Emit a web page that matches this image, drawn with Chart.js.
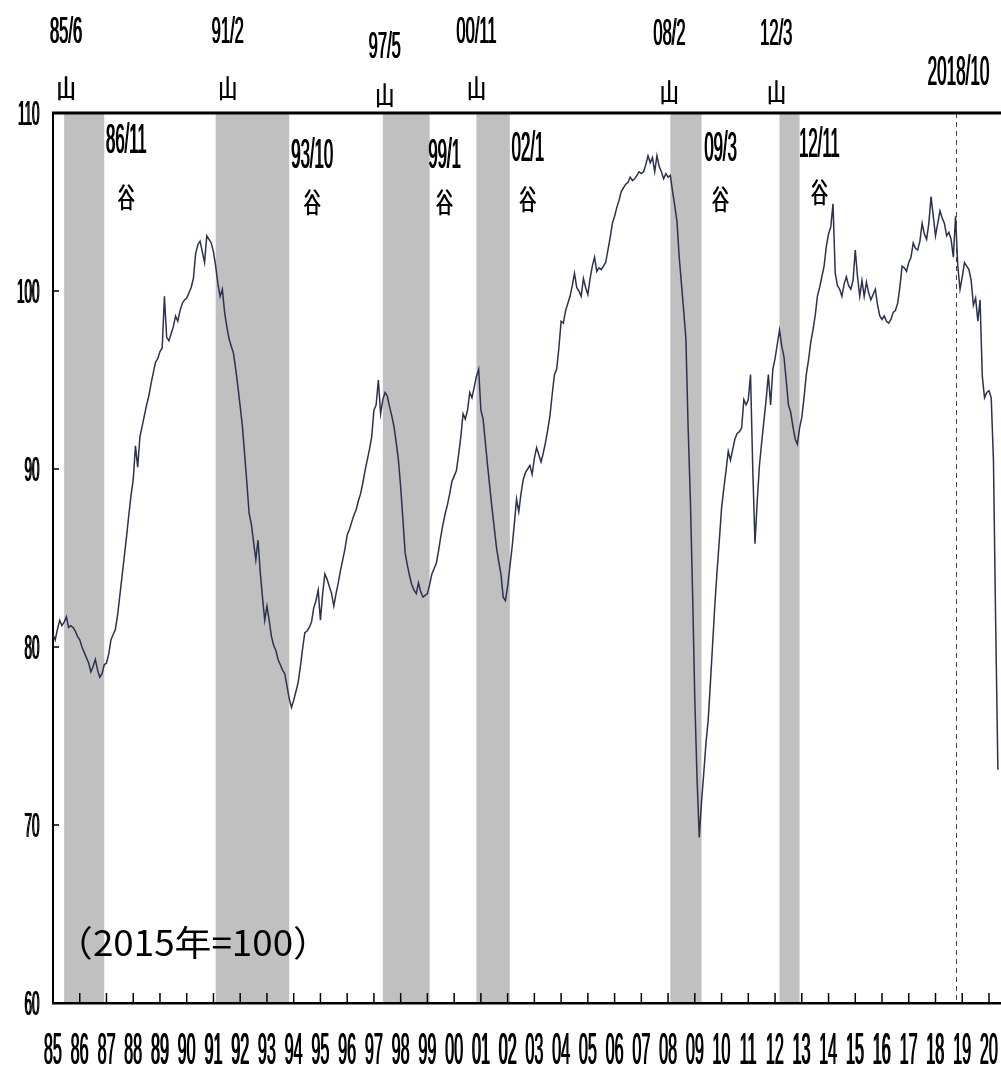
<!DOCTYPE html>
<html>
<head>
<meta charset="utf-8">
<script src="https://cdn.jsdelivr.net/npm/chart.js@4.4.1/dist/chart.umd.min.js"></script>
<style>
  body { margin: 0; background: #fff; }
</style>
</head>
<body>
<canvas id="ciChart" width="1001" height="1069"></canvas>
<script>
// 景気動向指数 CI 一致指数 (2015年=100), monthly from 1985/1
const startYear = 1985;
const ciValues = [
  80.7, 80.4, 81.0, 81.5, 81.2, 81.4, 81.7, 81.1, 81.2, 81.1, 80.9, 80.6,   // 1985
  80.4, 80.0, 79.7, 79.4, 79.1, 78.6, 78.9, 79.3, 78.7, 78.3, 78.5, 79.0,   // 1986
  79.1, 79.6, 80.4, 80.7, 81.0, 81.8, 82.9, 84.0, 85.1, 86.2, 87.4, 88.5,   // 1987
  89.4, 91.3, 90.1, 91.8, 92.4, 93.0, 93.6, 94.1, 94.8, 95.4, 96.0, 96.2,   // 1988
  96.6, 96.8, 99.7, 97.4, 97.2, 97.6, 98.0, 98.6, 98.3, 98.9, 99.3, 99.5,   // 1989
  99.6, 99.9, 100.2, 100.7, 102.1, 102.6, 102.8, 102.2, 101.6, 103.1, 102.9, 102.7, // 1990
  102.2, 101.4, 100.4, 99.7, 100.1, 98.8, 98.0, 97.3, 96.9, 96.5, 95.6, 94.6, // 1991
  93.5, 92.4, 90.8, 89.2, 87.5, 86.9, 85.9, 84.9, 86.0, 84.2, 82.8, 81.5,   // 1992
  82.3, 81.5, 80.6, 80.1, 79.8, 79.3, 79.0, 78.7, 78.5, 77.8, 77.1, 76.6,   // 1993
  77.0, 77.5, 78.0, 78.9, 79.9, 80.8, 80.9, 81.1, 81.4, 82.2, 82.6, 83.2,   // 1994
  81.5, 83.0, 84.1, 83.8, 83.4, 83.0, 82.3, 83.0, 83.6, 84.3, 84.9, 85.5,   // 1995
  86.3, 86.6, 87.0, 87.4, 87.7, 88.2, 88.6, 89.2, 89.9, 90.5, 91.1, 91.8,   // 1996
  93.3, 93.6, 95.0, 93.1, 93.9, 94.3, 94.1, 93.5, 93.0, 92.4, 91.5, 90.5,   // 1997
  89.0, 87.2, 85.3, 84.6, 84.0, 83.5, 83.2, 83.0, 83.6, 83.1, 82.8, 82.9,   // 1998
  83.0, 83.5, 84.1, 84.4, 84.7, 85.4, 86.2, 86.9, 87.5, 88.0, 88.6, 89.3,   // 1999
  89.6, 89.9, 90.8, 91.8, 93.1, 92.8, 93.3, 94.3, 94.0, 94.6, 95.2, 95.6,   // 2000
  93.3, 92.8, 91.5, 90.2, 89.0, 87.8, 86.7, 85.6, 84.8, 84.1, 82.8, 82.6,   // 2001
  83.4, 84.5, 85.6, 86.9, 88.3, 87.6, 88.6, 89.4, 89.8, 90.0, 90.2, 89.7,   // 2002
  90.6, 91.2, 90.8, 90.4, 90.9, 91.5, 92.2, 93.0, 94.2, 95.3, 95.6, 96.8,   // 2003
  98.3, 98.2, 98.9, 99.3, 99.7, 100.3, 101.0, 100.2, 100.0, 99.7, 100.7, 100.2, // 2004
  99.8, 100.7, 101.4, 101.9, 101.1, 101.3, 101.2, 101.4, 101.6, 102.3, 103.0, 103.8, // 2005
  104.2, 104.7, 105.1, 105.6, 105.8, 106.0, 106.1, 106.4, 106.2, 106.3, 106.5, 106.7, // 2006
  106.6, 106.7, 107.1, 107.6, 107.2, 107.5, 106.7, 107.6, 107.0, 106.7, 106.3, 106.6, // 2007
  106.4, 106.5, 105.6, 104.8, 103.9, 101.9, 100.4, 98.9, 97.3, 92.3, 88.3, 83.0, // 2008
  77.0, 72.6, 69.3, 71.3, 72.9, 74.6, 75.9, 78.0, 80.2, 82.4, 84.3, 86.0,   // 2009
  87.8, 88.9, 89.9, 91.0, 90.5, 91.1, 91.7, 92.0, 92.1, 92.3, 93.9, 93.6,   // 2010
  93.9, 95.3, 90.0, 85.8, 88.2, 90.2, 91.5, 92.7, 93.9, 95.3, 93.6, 95.6,   // 2011
  96.2, 97.0, 97.8, 96.9, 96.3, 95.0, 93.6, 93.2, 92.4, 91.7, 91.4, 92.3,   // 2012
  92.9, 94.0, 95.3, 96.1, 97.1, 97.8, 98.6, 99.7, 100.2, 100.8, 101.4, 102.5, // 2013
  103.2, 103.6, 104.9, 101.0, 100.3, 100.1, 99.7, 100.4, 100.8, 100.3, 100.1, 100.6, // 2014
  102.3, 100.8, 99.7, 100.6, 99.7, 100.5, 99.9, 99.5, 99.8, 100.1, 99.2, 98.6, // 2015
  98.4, 98.6, 98.3, 98.2, 98.4, 98.8, 98.9, 99.3, 100.2, 101.4, 101.3, 101.1, // 2016
  101.6, 101.9, 102.7, 102.4, 102.3, 102.8, 103.8, 103.2, 102.9, 103.8, 105.3, 104.2, // 2017
  103.1, 103.8, 104.5, 104.1, 103.8, 103.1, 103.3, 102.9, 101.9, 104.2, 101.4, 100.1, // 2018
  100.8, 101.6, 101.4, 101.2, 100.6, 99.2, 99.6, 98.3, 99.5, 95.2, 94.0, 94.3, // 2019
  94.4, 94.0, 90.5, 81.3, 73.1                                                // 2020
];

// 景気の山・谷 [year, month]
const peaks = [[1985, 6], [1991, 2], [1997, 5], [2000, 11], [2008, 2], [2012, 3]];
const troughs = [[1986, 11], [1993, 10], [1999, 1], [2002, 1], [2009, 3], [2012, 11]];
const peakLabels = ['85/6', '91/2', '97/5', '00/11', '08/2', '12/3'];
const troughLabels = ['86/11', '93/10', '99/1', '02/1', '09/3', '12/11'];
const latestPeak = [2018, 10];
const latestPeakLabel = '2018/10';

const yearLabels = ['85','86','87','88','89','90','91','92','93','94','95','96','97','98','99','00','01','02',
  '03','04','05','06','07','08','09','10','11','12','13','14','15','16','17','18','19','20'];
const yTicks = [60, 70, 80, 90, 100, 110];
const noteText = '（2015年=100）';

// label placement (pixels)
const peakDx = [2, 12, 2, 0, -1, -3];
const peakTextY = [30, 30, 45, 30, 32, 32];
const peakMarkY = [88, 88, 95, 88, 92, 92];
const troughDx = [22, 23, 15, 18, 19, 20];
const troughTextY = [138, 153, 153, 146, 146, 142];
const troughMarkY = [198, 203, 203, 200, 200, 193];

const NUM_FONT = '"Liberation Sans", Arial, sans-serif';
const CJK_FONT = '"Noto Sans CJK JP", "Noto Sans CJK SC", sans-serif';

function toX(ym, end) {
  return ym[0] + (ym[1] - (end ? 0 : 1)) / 12;
}

// condensed digits: h = digit height, adv = digit advance (px)
function numText(ctx, text, x, cy, h, adv, align) {
  ctx.save();
  ctx.font = '100px ' + NUM_FONT;
  const z = ctx.measureText('0');
  const m = ctx.measureText(text);
  const sy = h / (z.actualBoundingBoxAscent + z.actualBoundingBoxDescent);
  const sx = adv / z.width;
  ctx.translate(x, cy);
  ctx.scale(sx, sy);
  ctx.textAlign = 'left';
  ctx.textBaseline = 'alphabetic';
  ctx.fillStyle = '#000';
  const left = m.actualBoundingBoxLeft, right = m.actualBoundingBoxRight;
  const gx = align === 'right' ? -right : -(right - left) / 2;
  const gy = (z.actualBoundingBoxAscent - z.actualBoundingBoxDescent) / 2;
  // thicken the squeezed vertical strokes a little
  ctx.fillText(text, gx - 0.4 / sx, gy);
  ctx.fillText(text, gx + 0.4 / sx, gy);
  ctx.restore();
}

// fit glyph box into w x h centred on (x, cy)
function boxText(ctx, text, x, cy, w, h, family, bold) {
  ctx.save();
  ctx.font = '100px ' + family;
  const m = ctx.measureText(text);
  const asc = m.actualBoundingBoxAscent, desc = m.actualBoundingBoxDescent;
  const left = m.actualBoundingBoxLeft, right = m.actualBoundingBoxRight;
  const sx = w / (left + right);
  ctx.translate(x, cy);
  ctx.scale(sx, h / (asc + desc));
  ctx.textAlign = 'left';
  ctx.textBaseline = 'alphabetic';
  ctx.fillStyle = '#000';
  const gx = -(right - left) / 2, gy = (asc - desc) / 2;
  if (bold) {
    ctx.fillText(text, gx - 0.4 / sx, gy);
    ctx.fillText(text, gx + 0.4 / sx, gy);
  } else {
    ctx.fillText(text, gx, gy);
  }
  ctx.restore();
}

const cyclePlugin = {
  id: 'cycle',
  beforeDraw(chart) {
    const {ctx, chartArea: a, scales: {x}} = chart;
    ctx.save();
    ctx.fillStyle = '#fff';
    ctx.fillRect(0, 0, chart.width, chart.height);
    ctx.fillStyle = '#c0c0c0';
    peaks.forEach((p, i) => {
      const x0 = x.getPixelForValue(toX(p, false));
      const x1 = x.getPixelForValue(toX(troughs[i], true));
      ctx.fillRect(x0, a.top, x1 - x0, a.bottom - a.top);
    });
    ctx.restore();
  },
  beforeDatasetsDraw(chart) {
    const {ctx, chartArea: a, scales: {x}} = chart;
    const px = Math.round(x.getPixelForValue(toX(latestPeak, false))) + 0.5;
    ctx.save();
    ctx.strokeStyle = '#444';
    ctx.lineWidth = 1;
    ctx.setLineDash([5, 4]);
    ctx.beginPath();
    ctx.moveTo(px, a.top);
    ctx.lineTo(px, a.bottom);
    ctx.stroke();
    ctx.restore();
  },
  afterDraw(chart) {
    const {ctx, chartArea: a, scales: {x, y}} = chart;
    ctx.save();
    // top frame line
    ctx.strokeStyle = '#000';
    ctx.lineWidth = 3;
    ctx.beginPath();
    ctx.moveTo(a.left - 1, a.top);
    ctx.lineTo(a.right, a.top);
    ctx.stroke();

    // inward ticks
    ctx.lineWidth = 1.5;
    ctx.beginPath();
    yearLabels.forEach((lab, i) => {
      const px = x.getPixelForValue(startYear + i);
      ctx.moveTo(px, a.bottom);
      ctx.lineTo(px, a.bottom - 10);
    });
    yTicks.forEach(v => {
      const py = y.getPixelForValue(v);
      ctx.moveTo(a.left, py);
      ctx.lineTo(a.left + 6, py);
    });
    ctx.stroke();
    ctx.restore();

    // tick labels
    yearLabels.forEach((lab, i) => {
      numText(ctx, lab, x.getPixelForValue(startYear + i), 1049, 31, 9, 'center');
    });
    yTicks.forEach(v => {
      numText(ctx, String(v), 39, y.getPixelForValue(v), 25, 7.5, 'right');
    });

    // peaks (山) and troughs (谷)
    peaks.forEach((p, i) => {
      const px = x.getPixelForValue(toX(p, false)) + peakDx[i];
      numText(ctx, peakLabels[i], px, peakTextY[i], 26, 9.2, 'center');
      boxText(ctx, '山', px, peakMarkY[i], 15, 24, CJK_FONT, true);
    });
    troughs.forEach((t, i) => {
      const px = x.getPixelForValue(toX(t, true)) + troughDx[i];
      numText(ctx, troughLabels[i], px, troughTextY[i], 30, 9.3, 'center');
      boxText(ctx, '谷', px, troughMarkY[i], 16, 26, CJK_FONT, true);
    });
    const lx = x.getPixelForValue(toX(latestPeak, false)) + 3;
    numText(ctx, latestPeakLabel, lx, 70, 30, 9.5, 'center');

    // base-year note
    boxText(ctx, noteText, 193, 943, 223, 34, CJK_FONT, false);
  }
};

new Chart(document.getElementById('ciChart'), {
  type: 'line',
  data: {
    datasets: [{
      data: ciValues.map((v, i) => ({x: startYear + i / 12, y: v})),
      borderColor: '#2c3150',
      borderWidth: 1.5,
      pointRadius: 0,
      tension: 0,
      fill: false
    }]
  },
  options: {
    responsive: false,
    animation: false,
    devicePixelRatio: 1,
    layout: {
      padding: {left: 53, right: 0, top: 113, bottom: 66}
    },
    plugins: {
      legend: {display: false},
      tooltip: {enabled: false}
    },
    scales: {
      x: {
        type: 'linear',
        min: 1985,
        max: 2020.449,
        ticks: {display: false},
        grid: {display: false, drawTicks: false},
        border: {display: true, color: '#000', width: 2.5}
      },
      y: {
        min: 60,
        max: 110,
        ticks: {display: false},
        grid: {display: false, drawTicks: false},
        border: {display: true, color: '#000', width: 2}
      }
    }
  },
  plugins: [cyclePlugin]
});
</script>
</body>
</html>
